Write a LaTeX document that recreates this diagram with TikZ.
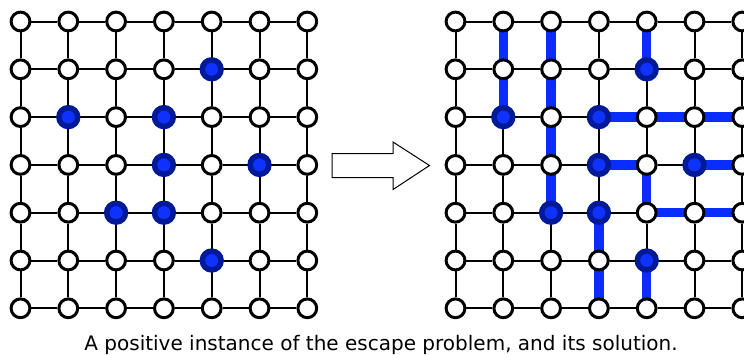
\documentclass[tikz,border=0pt]{standalone}
\usepackage{fontspec}
\setmainfont{DejaVu Sans}
\usepackage{tikz}
\usetikzlibrary{positioning,calc,backgrounds}
\newcommand{\myfont}{\fontsize{20}{24}\selectfont}
\newcommand{\xdist}{47.8}
\newcommand{\ydist}{47.8}
\newcommand{\xleft}{20.5}
\newcommand{\xright}{455.5}
\newcommand{\ytop}{21.5}
\definecolor{ringblue}{RGB}{0,25,150}
\definecolor{dotblue}{RGB}{15,50,255}
\definecolor{pathblue}{RGB}{10,45,255}

\begin{document}
\begin{tikzpicture}[x=1pt, y=-1pt,
  vertex/.style={circle,
    minimum size=18.8pt,
    inner sep=0pt,
    line width=3pt,
    draw=black,
    fill=white},
  blocked/.style={circle,
    minimum size=18.8pt,
    inner sep=0pt,
    line width=5.5pt,
    draw=ringblue,
    fill=dotblue},
  edge/.style={line width=2pt, draw=black},
  escape/.style={line width=9.5pt, draw=pathblue}]

  \useasboundingbox (0,0) rectangle (744,354);

  %%%%%%%%%%% grid vertices (left: instance, right: solution)
  \foreach \c in {0,...,6} {
    \foreach \r in {0,...,6} {
      \node [vertex] (L-\c-\r) at ({\xleft+\c*\xdist},{\ytop+\r*\ydist}) {};
      \node [vertex] (R-\c-\r) at ({\xright+\c*\xdist},{\ytop+\r*\ydist}) {};
    }
  }

  % blocked start vertices
  \foreach \c/\r in {4/1,1/2,3/2,3/3,5/3,2/4,3/4,4/5} {
    \node [blocked] (LB-\c-\r) at (L-\c-\r) {};
    \node [blocked] (RB-\c-\r) at (R-\c-\r) {};
  }

  \begin{pgfonlayer}{background}
    % grid edges
    \foreach \g in {L,R} {
      \foreach \a in {0,...,5} {
        \pgfmathtruncatemacro{\b}{\a+1}
        \foreach \r in {0,...,6} {
          \draw [edge] (\g-\a-\r) -- (\g-\b-\r);
          \draw [edge] (\g-\r-\a) -- (\g-\r-\b);
        }
      }
    }

    % escape paths
    \draw [escape] (R-1-0.center) -- (R-1-2.center);
    \draw [escape] (R-2-0.center) -- (R-2-4.center);
    \draw [escape] (R-4-0.center) -- (R-4-1.center);
    \draw [escape] (R-3-2.center) -- (R-6-2.center);
    \draw [escape] (R-3-3.center) -- (R-4-3.center) -- (R-4-4.center) -- (R-6-4.center);
    \draw [escape] (R-5-3.center) -- (R-6-3.center);
    \draw [escape] (R-3-4.center) -- (R-3-6.center);
    \draw [escape] (R-4-5.center) -- (R-4-6.center);
  \end{pgfonlayer}

  % arrow between the grids
  \draw [line width=1pt] (332,153.5) -- (393,153.5) -- (393,142) -- (429.5,165.5)
    -- (393,189.5) -- (393,177.5) -- (332,177.5) -- cycle;

  % caption
  \node [anchor=base, inner sep=0pt] (caption) at (381,350)
    {\myfont A positive instance of the escape problem, and its solution.};

\end{tikzpicture}
\end{document}
